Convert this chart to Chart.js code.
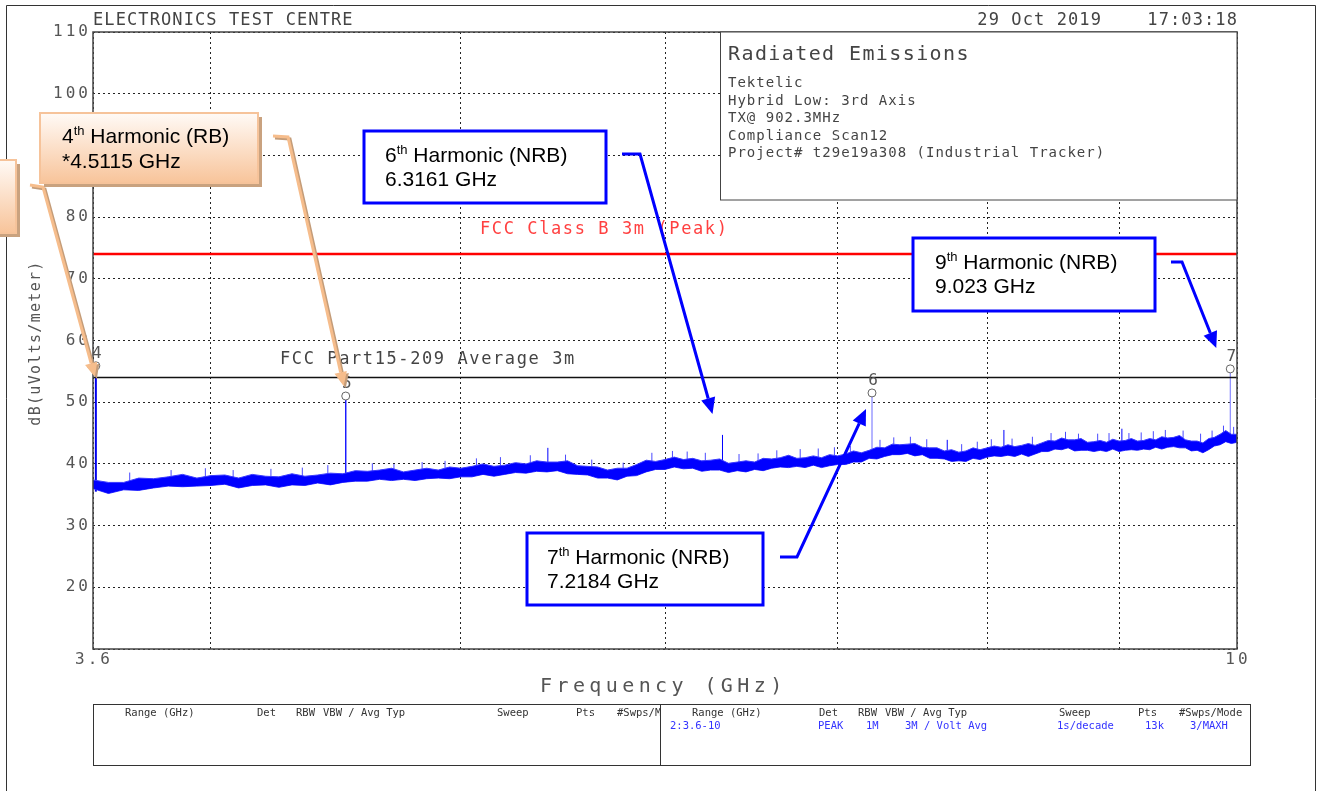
<!DOCTYPE html>
<html>
<head>
<meta charset="utf-8">
<title>Radiated Emissions</title>
<script src="https://cdn.jsdelivr.net/npm/chart.js@4.4.1/dist/chart.umd.min.js"></script>
<style>
  html, body { margin: 0; padding: 0; background: #fff; }
  canvas { display: block; }
</style>
</head>
<body>
<canvas id="scanChart" width="1325" height="791"></canvas>
<script>
// sweep frequencies (GHz) and the noise floor envelope (dBuV/m)
const freqGHz = [
  3.60, 3.65, 3.70, 3.75, 3.80, 3.85, 3.90, 3.95,
  4.00, 4.05, 4.10, 4.15, 4.20, 4.25, 4.30, 4.35, 4.40, 4.45, 4.50, 4.55, 4.60, 4.65, 4.70, 4.75, 4.80, 4.85, 4.90, 4.95,
  5.00, 5.05, 5.10, 5.15, 5.20, 5.25, 5.30, 5.35, 5.40, 5.45, 5.50, 5.55, 5.60, 5.65, 5.70, 5.75, 5.80, 5.85, 5.90, 5.95,
  6.00, 6.05, 6.10, 6.15, 6.20, 6.25, 6.30, 6.35, 6.40, 6.45, 6.50, 6.55, 6.60, 6.65, 6.70, 6.75, 6.80, 6.85, 6.90, 6.95,
  7.00, 7.05, 7.10, 7.15, 7.20, 7.25, 7.30, 7.35, 7.40, 7.45, 7.50, 7.55, 7.60, 7.65, 7.70, 7.75, 7.80, 7.85, 7.90, 7.95,
  8.00, 8.05, 8.10, 8.15, 8.20, 8.25, 8.30, 8.35, 8.40, 8.45, 8.50, 8.55, 8.60, 8.65, 8.70, 8.75, 8.80, 8.85, 8.90, 8.95,
  9.00, 9.05, 9.10, 9.15, 9.20, 9.25, 9.30, 9.35, 9.40, 9.45, 9.50, 9.55, 9.60, 9.65, 9.70, 9.75, 9.80, 9.85, 9.90, 9.95,
  10.00
];
const traceHigh = [
  37.4, 37.0, 37.0, 37.7, 37.6, 37.9, 38.3, 37.7,
  38.1, 38.2, 37.7, 38.3, 38.0, 37.9, 38.4, 38.0, 38.2, 38.5, 38.4, 38.9, 38.8, 39.0, 39.3, 38.7, 39.0, 39.3, 39.0, 39.5,
  39.3, 39.6, 40.0, 39.6, 39.8, 40.2, 40.0, 40.5, 40.3, 40.3, 40.5, 39.7, 39.6, 39.5, 39.0, 39.3, 39.3, 39.9, 40.6, 40.4,
  40.7, 41.1, 40.7, 40.9, 40.5, 40.6, 40.8, 40.1, 40.3, 40.5, 40.3, 40.9, 40.8, 41.0, 41.4, 40.9, 41.0, 41.3, 41.0, 41.5,
  41.3, 41.6, 42.1, 41.8, 42.2, 42.7, 42.6, 43.2, 43.1, 43.2, 43.3, 42.7, 42.6, 42.6, 42.1, 42.3, 41.9, 42.1, 42.6, 42.3,
  42.6, 42.9, 42.7, 43.1, 42.8, 43.0, 43.3, 43.0, 43.4, 43.8, 43.7, 44.2, 43.9, 43.9, 44.1, 43.5, 43.6, 43.8, 43.5, 44.0,
  43.7, 43.8, 44.1, 43.7, 43.8, 44.1, 43.9, 44.4, 44.2, 44.3, 44.6, 43.9, 43.7, 43.7, 43.4, 44.1, 44.3, 44.8, 45.4, 44.8,
  44.8
];
const traceLow = [
  36.0, 35.2, 35.8, 35.7, 36.1, 36.4, 36.3, 36.4,
  36.5, 36.7, 36.1, 36.5, 36.6, 36.2, 36.6, 36.5, 36.9, 36.6, 37.0, 37.2, 37.2, 37.5, 37.3, 37.5, 37.3, 37.6, 37.7, 37.6,
  37.9, 37.9, 38.3, 38.0, 38.3, 38.6, 38.5, 38.8, 38.7, 38.9, 38.4, 38.3, 38.2, 37.7, 37.7, 37.4, 38.0, 38.1, 38.7, 39.1,
  39.1, 39.5, 39.2, 39.3, 38.8, 39.0, 39.0, 38.6, 38.9, 38.7, 39.1, 38.9, 39.3, 39.5, 39.4, 39.6, 39.4, 39.8, 39.4, 39.7,
  39.9, 39.9, 40.3, 40.3, 40.9, 40.8, 41.2, 41.5, 41.5, 41.7, 41.3, 41.5, 40.9, 40.9, 40.8, 40.4, 40.5, 40.4, 40.9, 40.7,
  41.1, 41.3, 41.2, 41.4, 41.2, 41.6, 41.2, 41.6, 42.0, 42.0, 42.4, 42.3, 42.6, 42.1, 42.2, 42.2, 42.0, 42.2, 42.0, 42.4,
  42.0, 42.2, 42.3, 42.2, 42.4, 42.3, 42.7, 42.4, 42.7, 42.8, 42.6, 42.6, 42.1, 42.2, 41.8, 42.3, 42.9, 43.1, 43.6, 43.3,
  43.5
];

// noise hairs poking above the floor
const hairFreqs = [
  3.72, 3.86, 3.98, 4.08, 4.22, 4.34, 4.44, 4.62, 4.71, 4.83, 4.93, 5.07, 5.18, 5.32, 5.49, 5.62, 5.78,
  5.93, 6.04, 6.12, 6.22, 6.41, 6.52, 6.63, 6.77, 6.88, 6.98, 7.08, 7.27, 7.36, 7.47, 7.58, 7.82, 7.93,
  8.03, 8.18, 8.33, 8.47, 8.58, 8.68, 8.83, 8.92, 9.08, 9.18, 9.28, 9.38, 9.53, 9.68, 9.78, 9.88, 9.97
];
const hairTops = [
  38.6, 39.0, 39.3, 39.0, 39.2, 39.4, 39.8, 40.1, 40.0, 40.3, 40.5, 40.9, 41.1, 41.4, 41.5, 40.7, 40.2,
  41.8, 42.1, 42.0, 41.8, 41.6, 41.7, 42.2, 42.4, 42.5, 42.7, 42.9, 43.9, 44.3, 44.4, 44.0, 43.2, 43.6,
  44.0, 44.1, 44.4, 45.0, 45.2, 44.9, 44.9, 45.0, 45.0, 45.1, 45.3, 45.5, 45.4, 44.9, 45.4, 46.2, 46.0
];

// small spurs standing out of the noise
const spurFreqs = [5.404, 6.3161, 7.72, 8.1207, 9.023];
const spurBases = [39.5, 39.6, 41.4, 42.0, 42.9];
const spurTops = [42.6, 44.7, 43.9, 45.5, 45.7];

// numbered markers
const markerIds = ['4', '5', '6', '7'];
const markerFreqs = [3.6092, 4.5115, 7.2184, 9.94];
const markerBases = [35.5, 37.7, 41.4, 44.2];
const markerPeaks = [55.9, 51.0, 51.5, 55.4];

// limit lines
const limitNames = ['FCC Class B 3m (Peak)', 'FCC Part15-209 Average 3m'];
const limitLevels = [74, 54];

// axes
const yTicks = [20, 30, 40, 50, 60, 70, 80, 90, 100, 110];
const xGrid = [3.6, 4, 5, 6, 7, 8, 9, 10];
const xLabels = ['3.6', '10'];

const MONO = "'DejaVu Sans Mono', monospace";
const SANS = "'Liberation Sans', Arial, sans-serif";

const datasets = [];
datasets.push({
  data: freqGHz.map((f, i) => ({ x: f, y: traceHigh[i] })),
  borderColor: '#3a3aff', backgroundColor: '#0000ff', borderWidth: 1, pointRadius: 0, fill: '+1'
});
datasets.push({
  data: freqGHz.map((f, i) => ({ x: f, y: traceLow[i] })),
  borderColor: '#3a3aff', borderWidth: 1, pointRadius: 0, fill: false
});

// hairs start from the middle of the band at the nearest sweep point
function bandMid(f) {
  let k = 0;
  freqGHz.forEach((g, i) => { if (Math.abs(g - f) < Math.abs(freqGHz[k] - f)) k = i; });
  return (traceHigh[k] + traceLow[k]) / 2;
}
const hairPts = [];
hairFreqs.forEach((f, i) => {
  hairPts.push({ x: f, y: bandMid(f) }, { x: f, y: hairTops[i] }, { x: f, y: null });
});
datasets.push({ data: hairPts, borderColor: '#4a4aff', borderWidth: 1, pointRadius: 0, spanGaps: false });

const spurPts = [];
spurFreqs.forEach((f, i) => {
  spurPts.push({ x: f, y: spurBases[i] }, { x: f, y: spurTops[i] }, { x: f, y: null });
});
datasets.push({ data: spurPts, borderColor: '#0000ff', borderWidth: 1, pointRadius: 0, spanGaps: false });

const limitColors = ['#ff0000', '#111111'];
limitLevels.forEach((lv, i) => {
  datasets.push({
    data: [{ x: xGrid[0], y: lv }, { x: xGrid[xGrid.length - 1], y: lv }],
    borderColor: limitColors[i], borderWidth: i === 0 ? 2.5 : 1.5, pointRadius: 0
  });
});

const stemColors = ['#0000ee', '#1a1aff', '#6b6bff', '#7272ff'];
const stemWidths = [2, 1.5, 1, 1];
markerFreqs.forEach((f, i) => {
  datasets.push({
    data: [{ x: f, y: markerBases[i] }, { x: f, y: markerPeaks[i] }],
    borderColor: stemColors[i], borderWidth: stemWidths[i],
    pointRadius: c => c.dataIndex === 1 ? 4 : 0,
    pointBorderColor: '#666', pointBackgroundColor: '#fff', pointBorderWidth: 1
  });
});

function text(ctx, s, x, y, font, color, spacing, align) {
  ctx.font = font;
  ctx.fillStyle = color;
  ctx.letterSpacing = (spacing || 0) + 'px';
  ctx.textAlign = align || 'left';
  ctx.fillText(s, x, y);
}

function arrow(ctx, pts, color, width, head) {
  const n = pts.length;
  const [tx, ty] = pts[n - 1];
  const [px, py] = pts[n - 2];
  const a = Math.atan2(ty - py, tx - px);
  const bx = tx - Math.cos(a) * head, by = ty - Math.sin(a) * head;
  ctx.strokeStyle = color;
  ctx.lineWidth = width;
  ctx.beginPath();
  ctx.moveTo(pts[0][0], pts[0][1]);
  for (let i = 1; i < n - 1; i++) ctx.lineTo(pts[i][0], pts[i][1]);
  ctx.lineTo(bx, by);
  ctx.stroke();
  const hw = head * 0.45;
  ctx.fillStyle = color;
  ctx.beginPath();
  ctx.moveTo(tx, ty);
  ctx.lineTo(bx + Math.sin(a) * hw, by - Math.cos(a) * hw);
  ctx.lineTo(bx - Math.sin(a) * hw, by + Math.cos(a) * hw);
  ctx.closePath();
  ctx.fill();
}

function harmonic(ctx, x, y, ord, rest) {
  ctx.letterSpacing = '0px';
  ctx.textAlign = 'left';
  ctx.fillStyle = '#000';
  ctx.font = `21px ${SANS}`;
  ctx.fillText(ord, x, y);
  let w = ctx.measureText(ord).width;
  ctx.font = `13px ${SANS}`;
  ctx.fillText('th', x + w, y - 8);
  w += ctx.measureText('th').width;
  ctx.font = `21px ${SANS}`;
  ctx.fillText(rest, x + w, y);
}

// callout boxes; arrow tips hang off the data point they point at
const callouts = [
  { style: 'orange', box: [-200, 160, 216, 73], path: [[30, 185], [43, 187]],
    target: [markerFreqs[0], markerPeaks[0]], tip: [-1, 11] },
  { style: 'orange', box: [40, 113, 218, 70], ord: '4', rest: ' Harmonic (RB)', line2: '*4.5115 GHz',
    tx: 62, ty: [143, 168], path: [[273, 136], [288, 137]],
    target: [markerFreqs[1], markerPeaks[1]], tip: [-2, -10] },
  { style: 'blue', box: [364, 131, 242, 72], ord: '6', rest: ' Harmonic (NRB)', line2: '6.3161 GHz',
    tx: 385, ty: [162, 186], path: [[622, 154], [640, 154]],
    target: [spurFreqs[1], spurTops[1]], tip: [-10, -21] },
  { style: 'blue', box: [527, 533, 236, 72], ord: '7', rest: ' Harmonic (NRB)', line2: '7.2184 GHz',
    tx: 547, ty: [564, 588], path: [[780, 557], [797, 557]],
    target: [markerFreqs[2], markerPeaks[2]], tip: [-6, 16] },
  { style: 'blue', box: [913, 238, 242, 73], ord: '9', rest: ' Harmonic (NRB)', line2: '9.023 GHz',
    tx: 935, ty: [269, 293], path: [[1171, 262], [1182, 262]],
    target: [markerFreqs[3], markerPeaks[3]], tip: [-14, -21] }
];

const decor = {
  id: 'decor',
  beforeDraw(chart) {
    const ctx = chart.ctx;
    ctx.save();
    ctx.fillStyle = '#fff';
    ctx.fillRect(0, 0, chart.width, chart.height);
    ctx.restore();
  },
  afterDraw(chart) {
    const ctx = chart.ctx;
    const a = chart.chartArea;
    const xs = chart.scales.x, ys = chart.scales.y;
    ctx.save();

    // page frame
    ctx.strokeStyle = '#333';
    ctx.lineWidth = 1;
    ctx.beginPath();
    ctx.moveTo(6.5, 791); ctx.lineTo(6.5, 5.5); ctx.lineTo(1315.5, 5.5); ctx.lineTo(1315.5, 791);
    ctx.stroke();

    // plot frame
    ctx.strokeStyle = '#444';
    ctx.lineWidth = 1.5;
    ctx.strokeRect(a.left, a.top, a.right - a.left, a.bottom - a.top);

    // tick labels
    ctx.textBaseline = 'middle';
    yTicks.forEach(v => text(ctx, String(v), a.left - 2, ys.getPixelForValue(v), `16px ${MONO}`, '#555', 3, 'right'));
    ctx.textBaseline = 'top';
    text(ctx, xLabels[0], xs.getPixelForValue(xGrid[0]) + 1, a.bottom + 3, `16px ${MONO}`, '#555', 3, 'center');
    text(ctx, xLabels[1], xs.getPixelForValue(xGrid[xGrid.length - 1]) + 1, a.bottom + 3, `16px ${MONO}`, '#555', 3, 'center');

    ctx.textBaseline = 'alphabetic';
    text(ctx, 'Frequency (GHz)', 540, 692, `20px ${MONO}`, '#555', 4.4);
    ctx.save();
    ctx.translate(40, 343);
    ctx.rotate(-Math.PI / 2);
    text(ctx, 'dB(uVolts/meter)', 0, 0, `15px ${MONO}`, '#555', 1.3, 'center');
    ctx.restore();

    // header
    text(ctx, 'ELECTRONICS TEST CENTRE', 93, 25, `17px ${MONO}`, '#444', 1.1);
    text(ctx, '29 Oct 2019    17:03:18', 1238, 25, `17px ${MONO}`, '#444', 1.1, 'right');

    // limit labels
    text(ctx, limitNames[0], 480, ys.getPixelForValue(limitLevels[0]) - 20, `17px ${MONO}`, '#ff4040', 1.6);
    text(ctx, limitNames[1], 280, ys.getPixelForValue(limitLevels[1]) - 14, `17px ${MONO}`, '#444', 1.6);

    // marker numbers
    markerIds.forEach((id, i) => {
      text(ctx, id, xs.getPixelForValue(markerFreqs[i]) + 1, ys.getPixelForValue(markerPeaks[i]) - 8,
        `16px ${MONO}`, '#555', 0, 'center');
    });

    // info box
    ctx.fillStyle = '#fff';
    ctx.fillRect(720, a.top, a.right - 720, 200 - a.top);
    ctx.strokeStyle = '#444';
    ctx.lineWidth = 1;
    ctx.strokeRect(720.5, a.top, a.right - 720.5, 200 - a.top);
    text(ctx, 'Radiated Emissions', 728, 60, `20px ${MONO}`, '#444', 1.4);
    const info = ['Tektelic', 'Hybrid Low: 3rd Axis', 'TX@ 902.3MHz', 'Compliance Scan12',
      'Project# t29e19a308 (Industrial Tracker)'];
    info.forEach((s, i) => text(ctx, s, 728, 87 + i * 17.5, `14px ${MONO}`, '#444', 1));

    // settings table
    ctx.strokeStyle = '#333';
    ctx.lineWidth = 1;
    ctx.strokeRect(93.5, 704.5, 1157, 61);
    ctx.beginPath(); ctx.moveTo(660.5, 704.5); ctx.lineTo(660.5, 765.5); ctx.stroke();
    const head = [['Range (GHz)', 0], ['Det', 132], ['RBW', 171], ['VBW / Avg Typ', 198], ['Sweep', 372], ['Pts', 451], ['#Swps/Mode', 492]];
    ctx.save();
    ctx.beginPath(); ctx.rect(94, 705, 566, 60); ctx.clip();
    head.forEach(([s, dx]) => text(ctx, s, 125 + dx, 716, `10.5px ${MONO}`, '#333', 0));
    ctx.restore();
    head.forEach(([s, dx]) => text(ctx, s, 692 + dx - (dx ? 5 : 0), 716, `10.5px ${MONO}`, '#333', 0));
    const row = [['2:3.6-10', 670], ['PEAK', 818], ['1M', 866], ['3M / Volt Avg', 905], ['1s/decade', 1057], ['13k', 1145], ['3/MAXH', 1190]];
    row.forEach(([s, x]) => text(ctx, s, x, 729, `10.5px ${MONO}`, '#3333ff', 0));

    // callouts
    callouts.forEach(c => {
      const [bx, by, bw, bh] = c.box;
      const tip = [xs.getPixelForValue(c.target[0]) + c.tip[0], ys.getPixelForValue(c.target[1]) + c.tip[1]];
      const pts = c.path.concat([tip]);
      if (c.style === 'orange') {
        ctx.fillStyle = '#c9a27f';
        ctx.fillRect(bx + 4, by + 4, bw, bh);
        const g = ctx.createLinearGradient(0, by, 0, by + bh);
        g.addColorStop(0, '#fffaf6');
        g.addColorStop(1, '#f8c49a');
        ctx.fillStyle = g;
        ctx.fillRect(bx, by, bw, bh);
        ctx.strokeStyle = '#f6c39a';
        ctx.lineWidth = 2;
        ctx.strokeRect(bx, by, bw, bh);
        arrow(ctx, pts.map(p => [p[0] + 2, p[1] + 2]), '#c49c78', 3, 14);
        arrow(ctx, pts, '#f6bd8c', 3, 14);
      } else {
        ctx.fillStyle = '#fff';
        ctx.fillRect(bx, by, bw, bh);
        ctx.strokeStyle = '#0000ff';
        ctx.lineWidth = 3;
        ctx.strokeRect(bx, by, bw, bh);
        arrow(ctx, pts, '#0000ff', 3, 16);
      }
      if (c.ord) {
        harmonic(ctx, c.tx, c.ty[0], c.ord, c.rest);
        text(ctx, c.line2, c.tx, c.ty[1], `21px ${SANS}`, '#000', 0);
      }
    });

    ctx.restore();
  }
};

const gridStyle = { color: '#222', lineWidth: 1, drawTicks: false };

new Chart(document.getElementById('scanChart'), {
  type: 'line',
  data: { datasets },
  options: {
    responsive: false,
    animation: false,
    devicePixelRatio: 1,
    layout: { padding: { left: 93, right: 88, top: 32, bottom: 142 } },
    plugins: { legend: { display: false }, tooltip: { enabled: false } },
    scales: {
      x: {
        type: 'logarithmic',
        min: xGrid[0],
        max: xGrid[xGrid.length - 1],
        afterBuildTicks: s => { s.ticks = xGrid.map(v => ({ value: v })); },
        afterFit: s => { s.height = 0; },
        ticks: { display: false },
        grid: gridStyle,
        border: { display: false, dash: [2, 3] }
      },
      y: {
        min: 10,
        max: 110,
        afterFit: s => { s.width = 0; },
        ticks: { display: false, stepSize: 10 },
        grid: gridStyle,
        border: { display: false, dash: [2, 3] }
      }
    }
  },
  plugins: [decor]
});
</script>
</body>
</html>
